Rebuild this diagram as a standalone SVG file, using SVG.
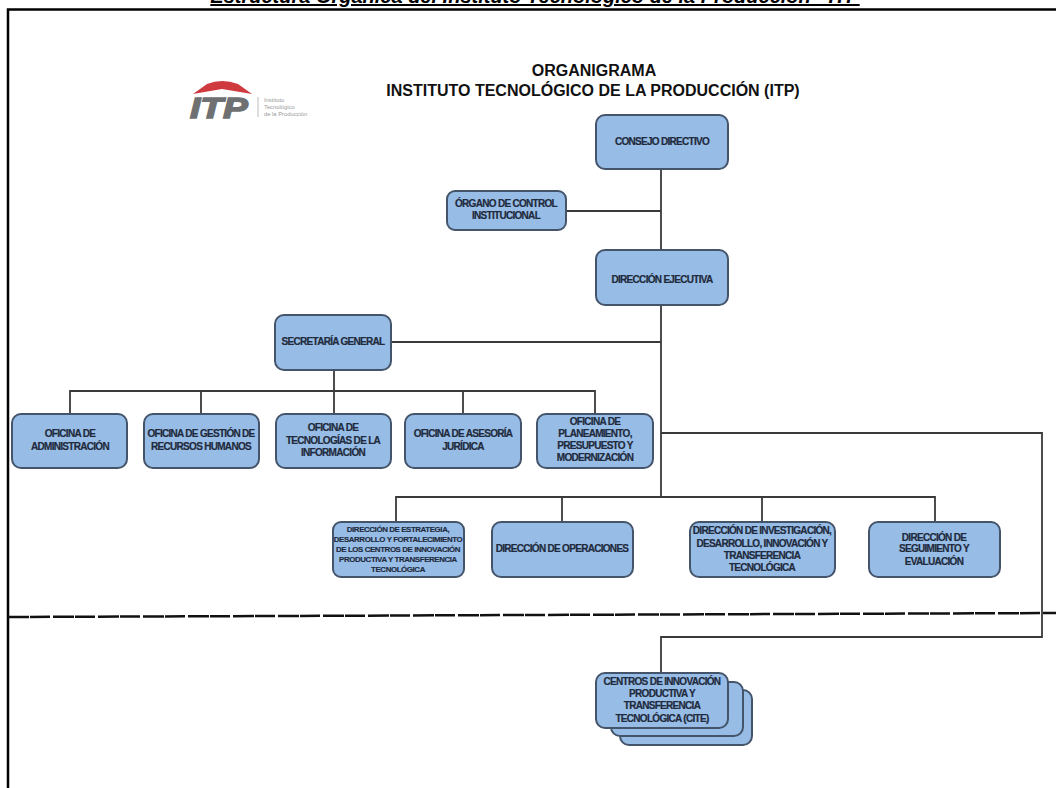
<svg xmlns="http://www.w3.org/2000/svg" width="1056" height="788" viewBox="0 0 1056 788">
<style>
.b{fill:#97bde6;stroke:#44546a;stroke-width:2}
.c{fill:none;stroke:#3a3a3a;stroke-width:1.8}
text{font-family:"Liberation Sans",Arial,sans-serif;font-weight:bold;text-anchor:middle;fill:#1f2a3c}
.t{font-size:10px;letter-spacing:-.7px;stroke:#1f2a3c;stroke-width:.2px}
.s{font-size:7.9px;letter-spacing:-.4px;stroke:#1f2a3c;stroke-width:.15px}
.h{font-size:16px;fill:#111}
.l{font-size:5.8px;font-weight:normal;text-anchor:start;fill:#999}
</style>
<rect width="1056" height="788" fill="#fff"/>
<text x="535" y="3" font-size="20" font-style="italic" text-decoration="underline" style="fill:#000">Estructura Orgánica del Instituto Tecnológico de la Producción - ITP</text>
<path d="M8 788V9.500H1056" fill="none" stroke="#000" stroke-width="2.500"/>
<g id="header">
<text class="h" x="594" y="76">ORGANIGRAMA</text>
<text class="h" x="593" y="96">INSTITUTO TECNOLÓGICO DE LA PRODUCCIÓN (ITP)</text>
</g>
<g id="logo">
<path d="M193 94L207 84Q222 78 238 84L252 94L222 89Z" fill="#cf3a3f"/>
<text x="0" y="0" transform="translate(190 118) scale(1.28 1)" font-size="29" font-style="italic" style="text-anchor:start;fill:#6e7072;stroke:#6e7072;stroke-width:1.4px">ITP</text>
<path d="M258 97V117" stroke="#bbb" stroke-width="1"/>
<text class="l" x="264" y="102">Instituto</text>
<text class="l" x="264" y="109">Tecnológico</text>
<text class="l" x="264" y="116">de la Producción</text>
</g>
<g id="connectors">
<path class="c" d="M661 168V498M566 211H661M391 342H661M334 370V391M70 414V391H595V414M201 391V414M334 391V414M463 391V414M396 522V497H935V522M562 497V522M762 497V522M661 433H1042V637H661V673"/>
<path d="M8 617L1056 613" fill="none" stroke="#111" stroke-width="2.500" stroke-dasharray="21 1 20 3"/>
</g>
<g id="consejo"><rect class="b" x="596" y="115" width="132" height="54" rx="9"/><text class="t" x="662" y="145">CONSEJO DIRECTIVO</text></g>
<g id="oci"><rect class="b" x="447" y="191" width="119" height="39" rx="8"/><text class="t" x="506" y="207">ÓRGANO DE CONTROL</text><text class="t" x="506" y="219">INSTITUCIONAL</text></g>
<g id="direccion-ejecutiva"><rect class="b" x="596" y="250" width="132" height="55" rx="9"/><text class="t" x="662" y="283">DIRECCIÓN EJECUTIVA</text></g>
<g id="secretaria"><rect class="b" x="275" y="315" width="116" height="55" rx="9"/><text class="t" x="333" y="345">SECRETARÍA GENERAL</text></g>
<g id="of-admin"><rect class="b" x="12" y="414" width="115" height="54" rx="9"/><text class="t" x="70" y="437">OFICINA DE</text><text class="t" x="70" y="450">ADMINISTRACIÓN</text></g>
<g id="of-rrhh"><rect class="b" x="144" y="414" width="115" height="54" rx="9"/><text class="t" x="201" y="437">OFICINA DE GESTIÓN DE</text><text class="t" x="201" y="450">RECURSOS HUMANOS</text></g>
<g id="of-ti"><rect class="b" x="276" y="414" width="115" height="54" rx="9"/><text class="t" x="333" y="431">OFICINA DE</text><text class="t" x="333" y="444">TECNOLOGÍAS DE LA</text><text class="t" x="333" y="456">INFORMACIÓN</text></g>
<g id="of-juridica"><rect class="b" x="405" y="414" width="116" height="54" rx="9"/><text class="t" x="463" y="437">OFICINA DE ASESORÍA</text><text class="t" x="463" y="450">JURÍDICA</text></g>
<g id="of-planeamiento"><rect class="b" x="537" y="414" width="116" height="54" rx="9"/><text class="t" x="595" y="425">OFICINA DE</text><text class="t" x="595" y="437">PLANEAMIENTO,</text><text class="t" x="595" y="449">PRESUPUESTO Y</text><text class="t" x="595" y="461">MODERNIZACIÓN</text></g>
<g id="dir-estrategia"><rect class="b" x="333" y="522" width="131" height="55" rx="8"/><text class="s" x="398" y="532">DIRECCIÓN DE ESTRATEGIA,</text><text class="s" x="398" y="542">DESARROLLO Y FORTALECIMIENTO</text><text class="s" x="398" y="552">DE LOS CENTROS DE INNOVACIÓN</text><text class="s" x="398" y="562">PRODUCTIVA Y TRANSFERENCIA</text><text class="s" x="398" y="572">TECNOLÓGICA</text></g>
<g id="dir-operaciones"><rect class="b" x="492" y="522" width="141" height="55" rx="9"/><text class="t" x="562" y="552">DIRECCIÓN DE OPERACIONES</text></g>
<g id="dir-investigacion"><rect class="b" x="690" y="522" width="145" height="55" rx="9"/><text class="t" x="762" y="534">DIRECCIÓN DE INVESTIGACIÓN,</text><text class="t" x="762" y="547">DESARROLLO, INNOVACIÓN Y</text><text class="t" x="762" y="559">TRANSFERENCIA</text><text class="t" x="762" y="571">TECNOLÓGICA</text></g>
<g id="dir-seguimiento"><rect class="b" x="869" y="522" width="131" height="55" rx="9"/><text class="t" x="934" y="541">DIRECCIÓN DE</text><text class="t" x="934" y="552">SEGUIMIENTO Y</text><text class="t" x="934" y="565">EVALUACIÓN</text></g>
<g id="cite">
<rect class="b" x="620" y="690" width="132" height="55" rx="9"/>
<rect class="b" x="611" y="682" width="132" height="54" rx="9"/>
<rect class="b" x="596" y="673" width="132" height="55" rx="9"/>
<text class="t" x="662" y="685">CENTROS DE INNOVACIÓN</text><text class="t" x="662" y="697">PRODUCTIVA Y</text><text class="t" x="662" y="709">TRANSFERENCIA</text><text class="t" x="662" y="722">TECNOLÓGICA (CITE)</text>
</g>
</svg>
